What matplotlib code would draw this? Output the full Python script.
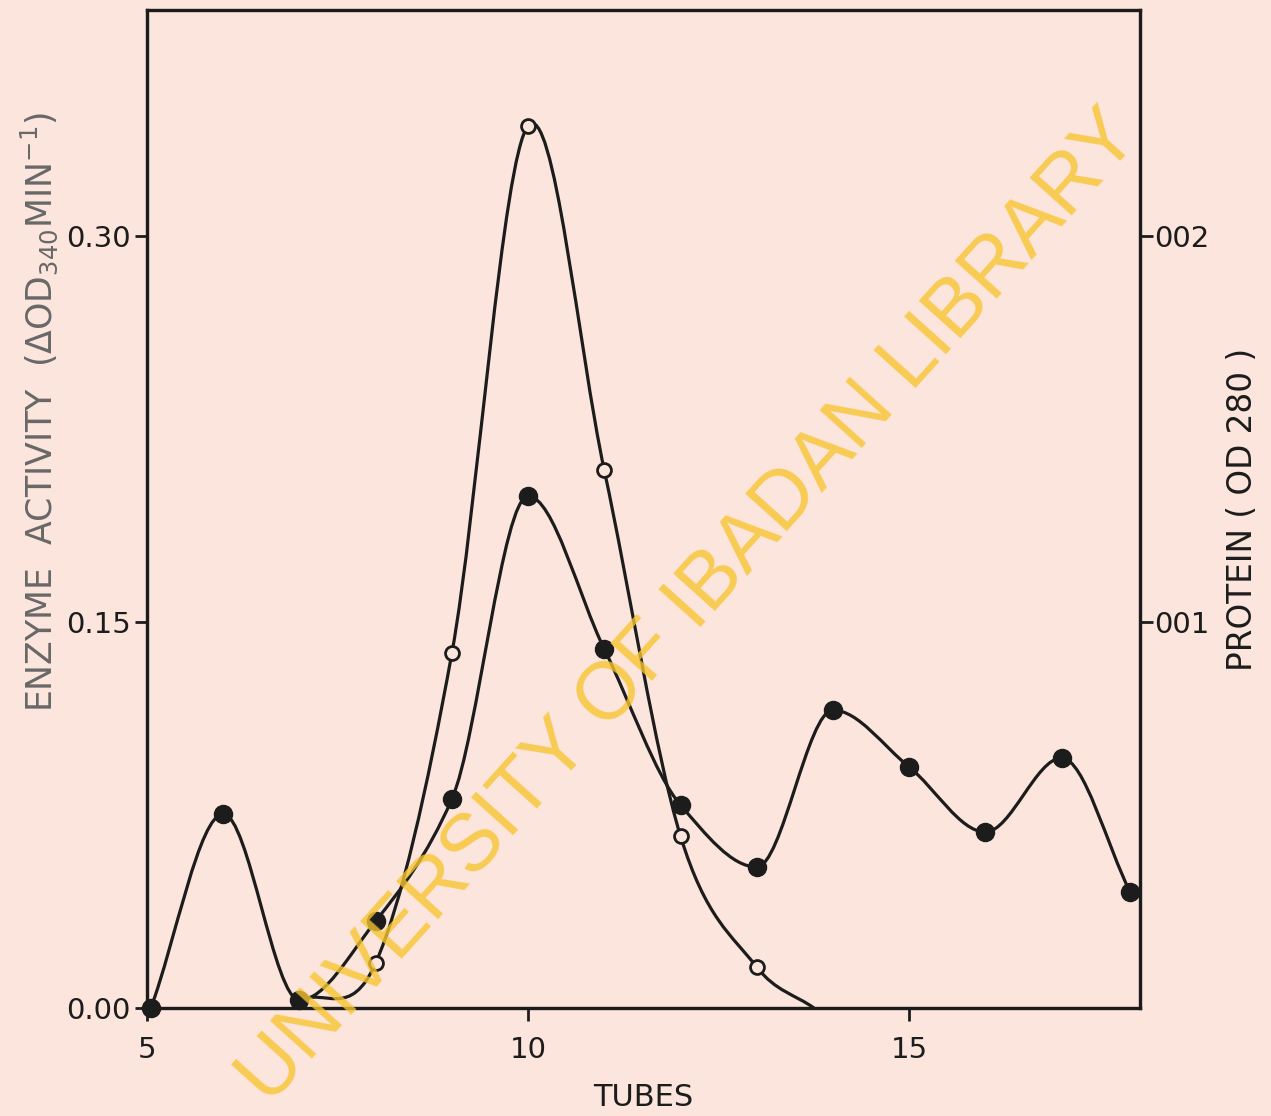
"""
Enzyme activity and protein profile across column tubes.
"""

import numpy as np
import matplotlib.pyplot as plt
from matplotlib.path import Path
from matplotlib.patches import PathPatch


# ── Data ─────────────────────────────────────────────────────────────────────

# filled circles (one continuous curve from tube 5 to 18)
filled_tubes = [5.05, 6, 7, 8, 9, 10, 11, 12, 13, 14, 15, 16, 17, 17.9]
filled_vals  = [0.000, 0.0754, 0.003, 0.0338, 0.0812, 0.199, 0.1395,
                0.0789, 0.0548, 0.1158, 0.0937, 0.0684, 0.0972, 0.0451]

# open circles (curve leaves the baseline at tube 7, back to 0 near 13.8)
open_tubes   = [8, 9, 10, 11, 12, 13]
open_vals    = [0.0175, 0.138, 0.343, 0.209, 0.0668, 0.0159]
open_line_x  = [7, 8, 9, 10, 11, 12, 13, 13.75]
open_line_y  = [0.003, 0.0175, 0.138, 0.343, 0.209, 0.0668, 0.0159, 0.0]

x_ticks       = [5, 10, 15]
left_ticks    = [0.00, 0.15, 0.30]
left_labels   = ["0.00", "0.15", "0.30"]
right_ticks   = [0.01, 0.02]
right_labels  = ["001", "002"]

BG     = "#fbe5dc"
INK    = "#1c1c1c"
WATER  = "#f7c531"


def smooth_path(xs, ys, monotone=True):
    """Cubic through the points as Bezier segments.
    monotone=True -> Fritsch-Carlson tangents, else Catmull-Rom style."""
    x = np.asarray(xs, float)
    y = np.asarray(ys, float)
    h = np.diff(x)
    d = np.diff(y) / h
    m = np.zeros_like(y)
    m[0], m[-1] = d[0], d[-1]
    for i in range(1, len(y) - 1):
        if not monotone:
            m[i] = (y[i + 1] - y[i - 1]) / (x[i + 1] - x[i - 1])
        elif d[i - 1] * d[i] <= 0:
            m[i] = 0.0
        else:
            w1 = 2 * h[i] + h[i - 1]
            w2 = h[i] + 2 * h[i - 1]
            m[i] = (w1 + w2) / (w1 / d[i - 1] + w2 / d[i])
    verts = [(x[0], y[0])]
    codes = [Path.MOVETO]
    for i in range(len(x) - 1):
        verts += [(x[i] + h[i] / 3, y[i] + m[i] * h[i] / 3),
                  (x[i + 1] - h[i] / 3, y[i + 1] - m[i + 1] * h[i] / 3),
                  (x[i + 1], y[i + 1])]
        codes += [Path.CURVE4] * 3
    return Path(verts, codes)


fig = plt.figure(figsize=(12.71, 11.16), dpi=100, facecolor=BG)
ax = fig.add_axes([0.1157, 0.0968, 0.7813, 0.8942])
ax.set_facecolor(BG)

ax.add_patch(PathPatch(smooth_path(filled_tubes, filled_vals), fill=False,
                       edgecolor=INK, linewidth=2.3, capstyle="round"))
ax.add_patch(PathPatch(smooth_path(open_line_x, open_line_y, monotone=False),
                       fill=False, edgecolor=INK, linewidth=2.3,
                       capstyle="round"))

ax.plot(filled_tubes, filled_vals, "o", color=INK, markersize=13,
        clip_on=False, zorder=4)
ax.plot(open_tubes, open_vals, "o", markerfacecolor=BG,
        markeredgecolor=INK, markersize=10, markeredgewidth=2,
        clip_on=False, zorder=4)

ax.set_xlim(5, 18.03)
ax.set_ylim(0, 0.388)
ax.set_xticks(x_ticks)
ax.set_xticklabels([str(t) for t in x_ticks], fontsize=21)
ax.set_yticks(left_ticks)
ax.set_yticklabels(left_labels, fontsize=21)
ax.tick_params(direction="out", length=9, width=2, colors=INK, pad=3)
ax.tick_params(axis="x", pad=11)
for s in ax.spines.values():
    s.set_linewidth(2.3)
    s.set_color(INK)

ax.set_xlabel("TUBES", fontsize=22, color=INK, labelpad=14)
ax.set_ylabel(r"ENZYME  ACTIVITY  ($\Delta$OD$_{340}$MIN$^{-1}$)",
              fontsize=25, color="#686868")
ax.yaxis.set_label_coords(-0.088, 0.597)

ax2 = ax.twinx()
ax2.set_ylim(0, 0.388 / 15)
ax2.set_yticks(right_ticks)
ax2.set_yticklabels(right_labels, fontsize=21)
ax2.tick_params(direction="out", length=9, width=2, colors=INK, pad=1)
ax2.set_ylabel("PROTEIN ( OD 280 )", fontsize=23.5, color=INK, labelpad=12)
for s in ax2.spines.values():
    s.set_linewidth(2.3)
    s.set_color(INK)

# library watermark across the figure
fig.text(0.543, 0.455, "UNIVERSITY OF IBADAN LIBRARY", fontsize=58,
         family="Liberation Sans", color=WATER, alpha=0.8, rotation=48,
         ha="center", va="center", rotation_mode="anchor", zorder=10)

fig.savefig("out.png", dpi=100, facecolor=BG)
